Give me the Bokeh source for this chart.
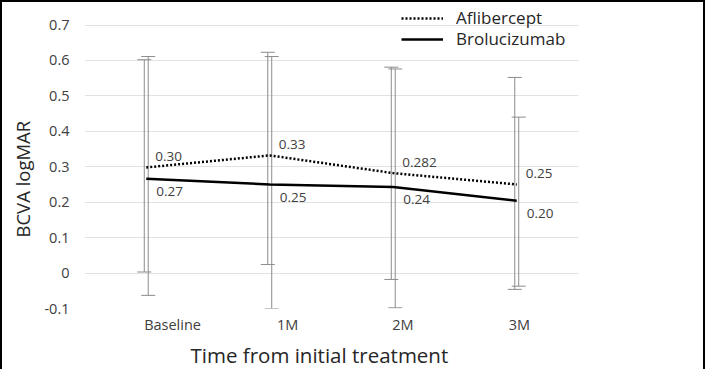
from bokeh.plotting import figure
from bokeh.models import (ColumnDataSource, Whisker, TeeHead, FixedTicker,
                          CustomJSTickFormatter, Legend, LegendItem, Range1d, Title)
from bokeh.transform import dodge
from bokeh.core.properties import value
from bokeh.embed import file_html
from bokeh.resources import INLINE

# ---- data ----
time_labels = ["Baseline", "1M", "2M", "3M"]
afli_mean = [0.298, 0.332, 0.282, 0.250]
afli_upper = [0.602, 0.623, 0.581, 0.552]
afli_lower = [0.003, 0.024, -0.018, -0.046]
afli_text = ["0.30", "0.33", "0.282", "0.25"]
bro_mean = [0.266, 0.250, 0.243, 0.204]
bro_upper = [0.611, 0.611, 0.576, 0.440]
bro_lower = [-0.063, -0.100, -0.098, -0.037]
bro_text = ["0.27", "0.25", "0.24", "0.20"]
y_ticks = [-0.1, 0, 0.1, 0.2, 0.3, 0.4, 0.5, 0.6, 0.7]
x_label_ticks = [0.213, 1.145, 2.078, 3.022]

xs = list(range(len(time_labels)))
afli = ColumnDataSource(dict(x=xs, y=afli_mean, upper=afli_upper, lower=afli_lower, text=afli_text))
bro = ColumnDataSource(dict(x=xs, y=bro_mean, upper=bro_upper, lower=bro_lower, text=bro_text))

FONT = "Open Sans"
GRAY = "#8c8c8c"
TXT = "#404040"
TITLE_C = "#262626"

p = figure(width=705, height=369, output_backend="svg", toolbar_location=None,
           x_range=Range1d(-0.5, 3.5), y_range=Range1d(-0.1, 0.7635),
           min_border_left=0, min_border_right=129, min_border_top=0, min_border_bottom=61)
p.styles = {"border-top": "2px solid black", "border-left": "2px solid black",
            "border-right": "2px solid black"}
p.outline_line_color = None
p.background_fill_color = "white"
p.border_fill_color = "white"

# axes
for ax in (p.xaxis[0], p.yaxis[0]):
    ax.axis_line_color = None
    ax.major_tick_line_color = None
    ax.minor_tick_line_color = None
    ax.major_tick_out = 0
    ax.major_tick_in = 0
    ax.minor_tick_out = 0
    ax.major_label_text_font = FONT
    ax.major_label_text_font_size = "14.5px"
    ax.major_label_text_color = TXT

p.xaxis.ticker = FixedTicker(ticks=x_label_ticks)
p.xaxis.formatter = CustomJSTickFormatter(args=dict(labels=time_labels), code="return labels[index];")
p.xaxis.major_label_standoff = 6
p.yaxis.ticker = FixedTicker(ticks=y_ticks)
p.yaxis.formatter = CustomJSTickFormatter(code="return Math.abs(tick) < 1e-9 ? '0' : tick.toFixed(1);")
p.yaxis.major_label_standoff = 15
p.yaxis.major_label_text_align = "right"

p.xgrid.visible = False
p.ygrid.ticker = FixedTicker(ticks=y_ticks)
p.ygrid.grid_line_color = "#e2e2e2"
p.ygrid.grid_line_width = 1

# axis titles
p.add_layout(Title(text="Time from initial treatment", align="left", offset=106, standoff=5,
                   text_font=FONT, text_font_size="20.5px", text_font_style="normal",
                   text_color=TITLE_C), "below")
p.add_layout(Title(text="BCVA logMAR", align="left", offset=71, standoff=12,
                   vertical_align="middle",
                   text_font=FONT, text_font_size="18.5px", text_font_style="normal",
                   text_color=TITLE_C), "left")

# error bars
for src, shift in ((afli, -0.016), (bro, 0.016)):
    w = Whisker(source=src, base=dodge("x", shift), upper="upper", lower="lower",
                line_color=GRAY, line_width=1,
                upper_head=TeeHead(size=14, line_color=GRAY, line_width=1),
                lower_head=TeeHead(size=14, line_color=GRAY, line_width=1))
    p.add_layout(w)

r1 = p.line("x", "y", source=afli, line_color="black", line_width=2.5, line_dash="2 2")
r2 = p.line("x", "y", source=bro, line_color="black", line_width=2.5)

p.text("x", "y", text="text", source=afli, x_offset=9, y_offset=-11,
       text_font=value(FONT), text_font_size="13.5px", text_color=TXT,
       text_align="left", text_baseline="middle")
p.text("x", "y", text="text", source=bro, x_offset=10, y_offset=13,
       text_font=value(FONT), text_font_size="13.5px", text_color=TXT,
       text_align="left", text_baseline="middle")

# legend: one small legend per series, stacked like the reference key
for label, rend, loc in (("Aflibercept", r1, (317, 279)), ("Brolucizumab", r2, (317, 258))):
    lg = Legend(items=[LegendItem(label=label, renderers=[rend])],
                location=loc, padding=0, margin=0, spacing=0,
                glyph_width=42, glyph_height=18, label_height=18, label_standoff=13,
                label_text_font=FONT, label_text_font_size="17px", label_text_color=TITLE_C,
                border_line_color=None, background_fill_alpha=0)
    p.add_layout(lg)

open("out.html", "w").write(file_html(p, INLINE))
